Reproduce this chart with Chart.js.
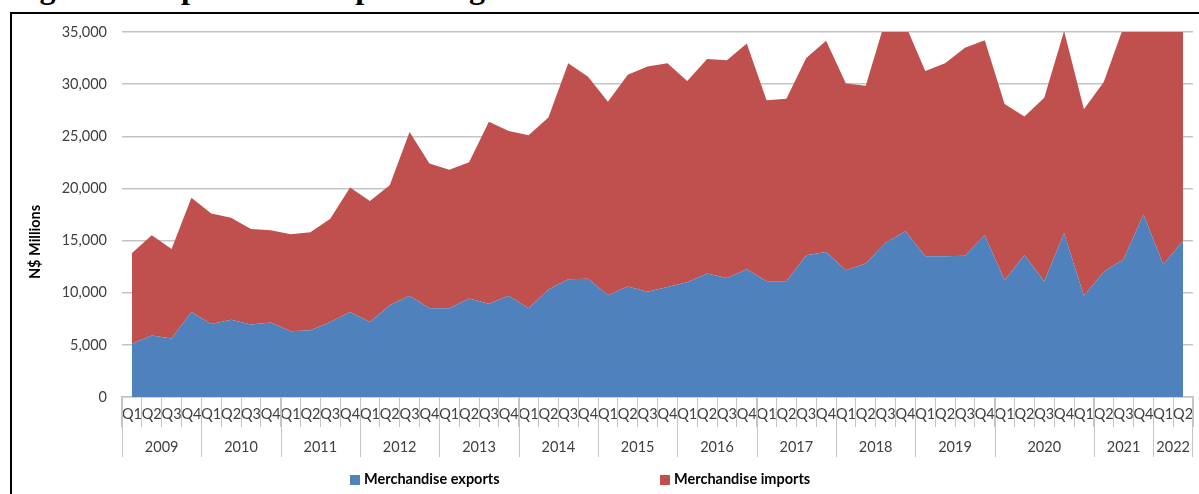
<!DOCTYPE html>
<html>
<head>
<meta charset="utf-8">
<script src="https://cdn.jsdelivr.net/npm/chart.js@4.4.1/dist/chart.umd.min.js"></script>
<style>
  html, body { margin: 0; padding: 0; background: #fff; overflow: hidden; }
  #wrap { position: relative; width: 1199px; height: 494px; overflow: hidden; }
  #frame { position: absolute; left: 10px; top: 12px; width: 1300px; height: 600px;
           border-left: 2px solid #000; border-top: 2px solid #000; }
  #title { position: absolute; left: 11px; top: -29px; font: bold 32px "Liberation Serif", serif;
           line-height: 32px; white-space: nowrap; color: #000; }
  #chart { position: absolute; left: 0; top: 0; }
  .leg { position: absolute; top: 470px; font: bold 14.5px Lato, sans-serif; color: #000; white-space: nowrap; }
  .leg span { display: inline-block; width: 10px; height: 10px; margin-right: 4px; vertical-align: -1px; }
</style>
</head>
<body>
<div id="wrap">
  <div id="frame"></div>
  <div id="title">Figure 3: Exports and imports of goods</div>
  <canvas id="chart" width="1199" height="494"></canvas>
  <div class="leg" style="left:350px"><span style="background:#4F81BD"></span>Merchandise exports</div>
  <div class="leg" style="left:660px"><span style="background:#C0504D"></span>Merchandise imports</div>
</div>
<script>
// quarter labels as they appear under the axis (Excel grouped them a bit oddly at the end)
const quarterLabels = [
    'Q1','Q2','Q3','Q4', 'Q1','Q2','Q3','Q4', 'Q1','Q2','Q3','Q4', 'Q1','Q2','Q3','Q4',
    'Q1','Q2','Q3','Q4', 'Q1','Q2','Q3','Q4', 'Q1','Q2','Q3','Q4', 'Q1','Q2','Q3','Q4',
    'Q1','Q2','Q3','Q4', 'Q1','Q2','Q3','Q4', 'Q1','Q2','Q3','Q4',
    'Q1','Q2','Q3','Q4','Q1', 'Q2','Q3','Q4', 'Q1','Q2'
];
const years = ['2009','2010','2011','2012','2013','2014','2015','2016','2017','2018','2019','2020','2021','2022'];
const yearSpans = [4,4,4,4,4,4,4,4,4,4,4,5,3,2];

// N$ millions
const exportsValues = [
    5100, 5900, 5600, 8150, 7000, 7400, 6950, 7150, 6300, 6400,
    7200, 8150, 7200, 8800, 9700, 8500, 8500, 9450, 8950, 9700,
    8500, 10300, 11300, 11350, 9750, 10600, 10100, 10550, 11000, 11850,
    11400, 12250, 11100, 11100, 13600, 13900, 12150, 12800, 14800, 15900,
    13500, 13500, 13550, 15500, 11200, 13600, 11100, 15700, 9700, 12000,
    13200, 17500, 12700, 15000
];
const importsValues = [
    8700, 9600, 8600, 10950, 10600, 9800, 9150, 8850, 9300, 9400,
    9900, 11950, 11600, 11500, 15700, 13900, 13300, 13050, 17450, 15800,
    16600, 16500, 20700, 19350, 18550, 20300, 21600, 21450, 19300, 20550,
    20900, 21650, 17350, 17500, 18900, 20250, 17900, 17050, 21400, 19800,
    17750, 18500, 19950, 18700, 16900, 13300, 17600, 19400, 17900, 18200,
    22300, 19500, 23800, 21500
];

const yTitle = 'N$ Millions';
const tickFont = { family: 'Lato', size: 14.5 };
const gridGray = '#c4c4c4';

// year row + separators + rotated axis title
const yearRow = {
    id: 'yearRow',
    afterDraw(chart) {
        const ctx = chart.ctx;
        const x = chart.scales.x;
        const w = (x.right - x.left) / quarterLabels.length;
        ctx.save();
        ctx.strokeStyle = gridGray;
        ctx.lineWidth = 1;
        ctx.fillStyle = '#404040';
        ctx.font = '14.5px Lato';
        ctx.textAlign = 'center';
        ctx.textBaseline = 'middle';
        let k = 0;
        yearSpans.forEach((span, j) => {
            const x0 = Math.round(x.left + k * w) + 0.5;
            ctx.beginPath();
            ctx.moveTo(x0, x.top);
            ctx.lineTo(x0, x.top + 60);
            ctx.stroke();
            ctx.fillText(years[j], x.left + (k + span / 2) * w, x.top + 50);
            k += span;
        });
        const xe = Math.round(x.right) - 0.5;
        ctx.beginPath();
        ctx.moveTo(xe, x.top);
        ctx.lineTo(xe, x.top + 60);
        ctx.stroke();

        ctx.translate(35, 242);
        ctx.rotate(-Math.PI / 2);
        ctx.fillStyle = '#000';
        ctx.font = 'bold 14.5px Lato';
        ctx.fillText(yTitle, 0, 0);
        ctx.restore();
    }
};

new Chart(document.getElementById('chart'), {
    type: 'line',
    data: {
        labels: quarterLabels,
        datasets: [{
            label: 'Merchandise exports',
            data: exportsValues,
            backgroundColor: '#4F81BD',
            borderColor: '#4F81BD',
            borderWidth: 0,
            pointRadius: 0,
            fill: 'origin'
        }, {
            label: 'Merchandise imports',
            data: importsValues,
            backgroundColor: '#C0504D',
            borderColor: '#C0504D',
            borderWidth: 0,
            pointRadius: 0,
            fill: '-1'
        }]
    },
    options: {
        responsive: false,
        animation: false,
        layout: { padding: { top: 32, right: 6, left: 0, bottom: 0 } },
        plugins: { legend: { display: false }, tooltip: { enabled: false } },
        scales: {
            x: {
                offset: true,
                afterFit: s => { s.height = 97; },
                grid: { offset: true, drawOnChartArea: false, tickLength: 30, color: gridGray, lineWidth: 1 },
                border: { display: true, color: gridGray, width: 1.5 },
                ticks: { autoSkip: false, maxRotation: 0, minRotation: 0, padding: -21, color: '#404040', font: tickFont }
            },
            y: {
                stacked: true,
                min: 0,
                max: 35000,
                afterFit: s => { s.width = 122; },
                grid: { drawTicks: false, color: gridGray, lineWidth: 1.5 },
                border: { display: false },
                ticks: { stepSize: 5000, padding: 15, color: '#404040', font: tickFont }
            }
        }
    },
    plugins: [yearRow]
});
</script>
</body>
</html>
